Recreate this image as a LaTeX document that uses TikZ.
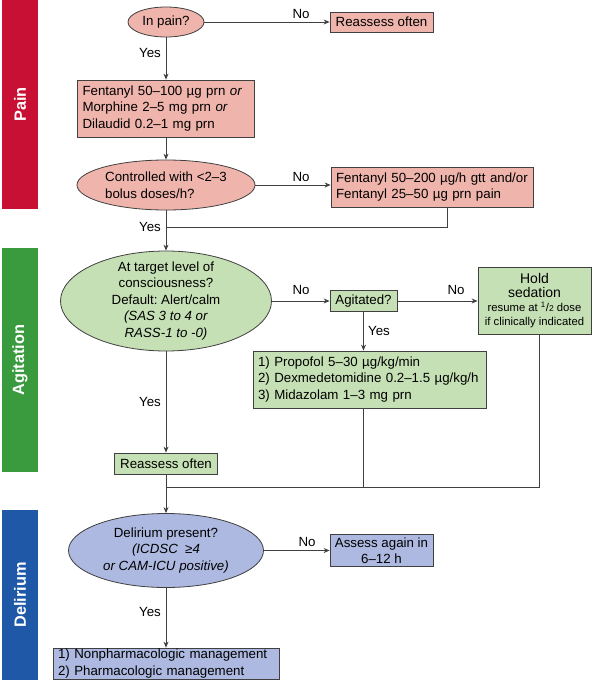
\documentclass[tikz,border=0pt]{standalone}
\usepackage{fontspec}
\setmainfont{Liberation Sans}
\usetikzlibrary{shapes.geometric,arrows.meta}
\definecolor{painbar}{RGB}{200,16,52}
\definecolor{painfill}{RGB}{239,181,172}
\definecolor{agbar}{RGB}{58,154,62}
\definecolor{agfill}{RGB}{198,224,181}
\definecolor{delbar}{RGB}{30,88,166}
\definecolor{delfill}{RGB}{173,185,224}
\definecolor{linec}{RGB}{64,64,64}
\frenchspacing
\newcommand{\holdsmall}{\fontsize{11.3}{14}\selectfont}
\begin{document}
\begin{tikzpicture}[x=1pt,y=-1pt,
  font=\fontsize{13.3}{16.5}\selectfont,
  box/.style={draw=linec, line width=0.8pt, rectangle, inner sep=0pt},
  ell/.style={draw=linec, line width=0.8pt, ellipse, inner sep=-10pt, align=center},
  bar/.style={rectangle, inner sep=0pt, text=white, rotate=90, minimum height=36pt,
              font=\fontsize{16.3}{18}\selectfont\bfseries},
  conn/.style={draw=linec, line width=0.8pt},
  arr/.style={conn, -{Stealth[length=6pt,width=5pt]}},
  lbl/.style={inner sep=0pt}
]
\useasboundingbox (0,0) rectangle (592,680);
\fill[white] (0,0) rectangle (592,680);

% side bars
\node[bar, fill=painbar, minimum width=209pt] (pbar) at (20,104.5) {Pain};
\node[bar, fill=agbar, minimum width=224pt] (abar) at (20,360) {Agitation};
\node[bar, fill=delbar, minimum width=170pt] (dbar) at (20,595) {Delirium};

% pain
\node[ell, fill=painfill, minimum width=76pt, minimum height=30pt] (q1) at (166,22) {In pain?};
\node[box, fill=painfill, minimum width=103pt, minimum height=20pt] (r1) at (381.5,22) {Reassess often};
\node[box, fill=painfill, minimum width=177pt, minimum height=57pt, align=left, text width=167pt] (b1) at (166,108.5)
  {Fentanyl 50–100 µg prn \textit{or}\\Morphine 2–5 mg prn \textit{or}\\Dilaudid 0.2–1 mg prn};
\node[ell, fill=painfill, minimum width=178pt, minimum height=50pt, align=left] (q2) at (166,185) {Controlled with <2–3\\bolus doses/h?};
\node[box, fill=painfill, minimum width=202pt, minimum height=40pt, align=left, text width=192pt] (b2) at (432,187)
  {Fentanyl 50–200 µg/h gtt and/or\\Fentanyl 25–50 µg prn pain};

% agitation
\node[ell, fill=agfill, minimum width=211pt, minimum height=100pt] (q3) at (166,301)
  {At target level of\\consciousness?\\Default: Alert/calm\\\textit{(SAS 3 to 4 or}\\\textit{RASS-1 to -0)}};
\node[box, fill=agfill, minimum width=67pt, minimum height=21pt] (ag) at (363.5,301) {Agitated?};
\node[box, fill=agfill, minimum width=113pt, minimum height=67pt, align=center,
      font=\fontsize{14}{14}\selectfont] (hold) at (534.5,301)
  {Hold\\sedation\\\holdsmall resume at \textsuperscript{1}/{\fontsize{8.5}{14}\selectfont 2} dose\\\holdsmall if clinically indicated};
\node[box, fill=agfill, minimum width=233pt, minimum height=57pt, align=left, text width=223pt] (prop) at (369.5,379.5)
  {1) Propofol 5–30 µg/kg/min\\2) Dexmedetomidine 0.2–1.5 µg/kg/h\\3) Midazolam 1–3 mg prn};
\node[box, fill=agfill, minimum width=103pt, minimum height=21pt] (r2) at (166,463.5) {Reassess often};

% delirium
\node[ell, fill=delfill, minimum width=195pt, minimum height=74pt] (q4) at (166,550.5)
  {Delirium present?\\\textit{(ICDSC \ ≥4}\\\textit{or CAM-ICU positive)}};
\node[box, fill=delfill, minimum width=103pt, minimum height=32pt, align=center] (a4) at (381.5,550.5) {Assess again in\\6–12 h};
\node[box, fill=delfill, minimum width=226pt, minimum height=31pt, align=left, text width=216pt] (f4) at (166,663.5)
  {1) Nonpharmacologic management\\2) Pharmacologic management};

% connectors
\coordinate (j1) at (166,227);
\coordinate (j2) at (166,487);
\draw[arr] (q1.east) -- (r1.west);
\draw[arr] (q1.south) -- (b1.north);
\draw[arr] (b1.south) -- (q2.north);
\draw[arr] (q2.east) -- (q2.east -| b2.west);
\draw[conn] ([xshift=15pt]b2.south) |- (j1);
\draw[arr] (q2.south) -- (q3.north);
\draw[arr] (q3.east) -- (ag.west);
\draw[arr] (ag.east) -- (hold.west);
\draw[arr] (ag.south) -- (ag.south |- prop.north);
\draw[conn] (prop.south -| ag.south) |- (j2);
\draw[conn] ([xshift=4.5pt]hold.south) |- (j2);
\draw[arr] (q3.south) -- (r2.north);
\draw[arr] (r2.south) -- (q4.north);
\draw[arr] (q4.east) -- (a4.west);
\draw[arr] (q4.south) -- (f4.north);

% labels
\node[lbl] (l1) at (301,14) {No};
\node[lbl] (l2) at (150,53) {Yes};
\node[lbl] (l3) at (301,177) {No};
\node[lbl] (l4) at (150,227) {Yes};
\node[lbl] (l5) at (301,290) {No};
\node[lbl] (l6) at (456,290) {No};
\node[lbl] (l7) at (379,331) {Yes};
\node[lbl] (l8) at (150,402) {Yes};
\node[lbl] (l9) at (307,542) {No};
\node[lbl] (l10) at (150,612) {Yes};
\end{tikzpicture}
\end{document}
